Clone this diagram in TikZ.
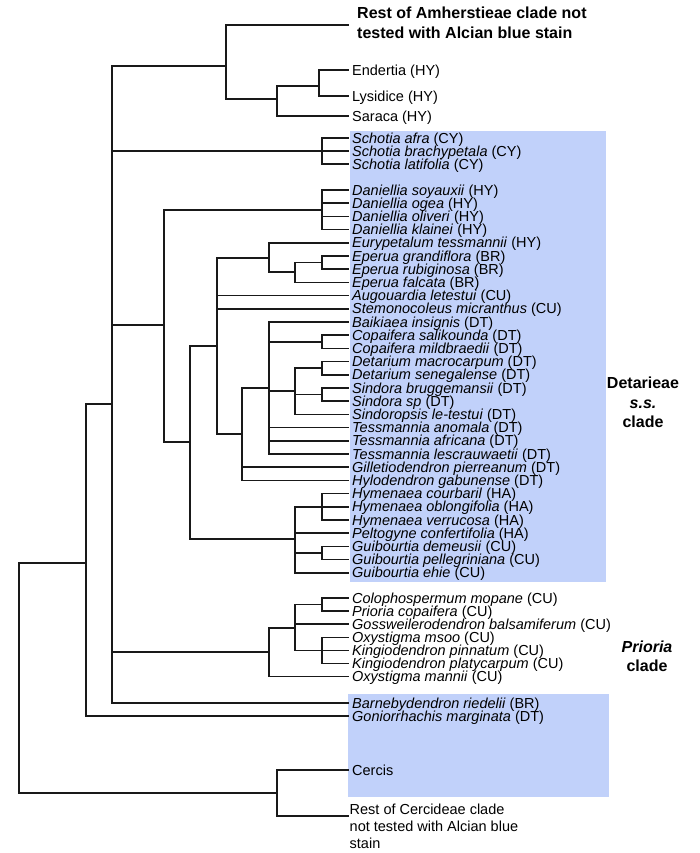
\documentclass[tikz,border=0pt]{standalone}
\usepackage{fontspec}
\setmainfont{Liberation Sans}
\definecolor{boxblue}{RGB}{193,209,250}
\definecolor{treeline}{RGB}{25,25,25}
\newcommand\leaffont{\fontsize{14.5bp}{17.2bp}\selectfont}
\newcommand\boldlab{\fontsize{16bp}{19.6bp}\selectfont\bfseries}
\newcommand\titlefont{\fontsize{16bp}{20.4bp}\selectfont\bfseries}
\begin{document}
\begin{tikzpicture}[x=1bp,y=-1bp,
  branch/.style={draw=treeline, line width=1.6bp, line cap=rect},
  spine/.style={draw=treeline, line width=2.2bp},
  leaf/.style={anchor=base west, inner sep=0pt, font=\leaffont},
  cladelabel/.style={align=center, inner sep=0pt, font=\boldlab},
  shade/.style={fill=boxblue, draw=none}]
\useasboundingbox (0,0) rectangle (700,853);
% shaded groups
\path[shade] (350,131) rectangle (606,582);
\path[shade] (348,694) rectangle (609,797);
% leaves
\foreach \n/\yy/\t in {
  en/70/{Endertia (HY)},
  ly/96/{Lysidice (HY)},
  sr/116/{Saraca (HY)},
  s1/138/{\textit{Schotia afra} (CY)},
  s2/151/{\textit{Schotia brachypetala} (CY)},
  s3/164/{\textit{Schotia latifolia} (CY)},
  d1/190/{\textit{Daniellia soyauxii} (HY)},
  d2/203.2/{\textit{Daniellia ogea} (HY)},
  d3/216.4/{\textit{Daniellia oliveri} (HY)},
  d4/229.6/{\textit{Daniellia klainei} (HY)},
  eu/242.8/{\textit{Eurypetalum tessmannii} (HY)},
  eg/256/{\textit{Eperua grandiflora} (BR)},
  er/269.2/{\textit{Eperua rubiginosa} (BR)},
  ef/282.4/{\textit{Eperua falcata} (BR)},
  au/295.6/{\textit{Augouardia letestui} (CU)},
  st/308.8/{\textit{Stemonocoleus micranthus} (CU)},
  bk/322/{\textit{Baikiaea insignis} (DT)},
  c1/335.2/{\textit{Copaifera salikounda} (DT)},
  c2/348.4/{\textit{Copaifera mildbraedii} (DT)},
  t1/361.6/{\textit{Detarium macrocarpum} (DT)},
  t2/374.8/{\textit{Detarium senegalense} (DT)},
  n1/388/{\textit{Sindora bruggemansii} (DT)},
  n2/401.2/{\textit{Sindora sp} (DT)},
  np/414.4/{\textit{Sindoropsis le-testui} (DT)},
  m1/427.6/{\textit{Tessmannia anomala} (DT)},
  m2/440.8/{\textit{Tessmannia africana} (DT)},
  m3/454/{\textit{Tessmannia lescrauwaetii} (DT)},
  gi/467.2/{\textit{Gilletiodendron pierreanum} (DT)},
  hl/480.4/{\textit{Hylodendron gabunense} (DT)},
  h1/493.6/{\textit{Hymenaea courbaril} (HA)},
  h2/506.8/{\textit{Hymenaea oblongifolia} (HA)},
  h3/520/{\textit{Hymenaea verrucosa} (HA)},
  pe/533.2/{\textit{Peltogyne confertifolia} (HA)},
  g1/546.4/{\textit{Guibourtia demeusii} (CU)},
  g2/559.6/{\textit{Guibourtia pellegriniana} (CU)},
  g3/572.8/{\textit{Guibourtia ehie} (CU)},
  co/598/{\textit{Colophospermum mopane} (CU)},
  pc/611.1/{\textit{Prioria copaifera} (CU)},
  go/624.2/{\textit{Gossweilerodendron balsamiferum} (CU)},
  o1/637.3/{\textit{Oxystigma msoo} (CU)},
  k1/650.4/{\textit{Kingiodendron pinnatum} (CU)},
  k2/663.5/{\textit{Kingiodendron platycarpum} (CU)},
  o2/676.6/{\textit{Oxystigma mannii} (CU)},
  ba/703/{\textit{Barnebydendron riedelii} (BR)},
  gm/716/{\textit{Goniorrhachis marginata} (DT)},
  ce/770/{Cercis}}
{
  \coordinate (L\n) at (348,\yy);
  \node[leaf] (T\n) at (352,\yy+5) {\t};
}
% outgroup-type leaves with multi-line text
\coordinate (Lrest) at (348,25);
\node[anchor=north west, inner sep=0pt, align=left, font=\titlefont] (Trest) at (357,6.6)
  {Rest of Amherstieae clade not\\tested with Alcian blue stain};
\coordinate (Lrc) at (348,816);
\node[anchor=north west, inner sep=0pt, align=left, font=\leaffont] (Trc) at (349.5,803.4)
  {Rest of Cercideae clade\\not tested with Alcian blue\\stain};
% clade labels
\node[cladelabel] (labDet) at (643,402.5) {Detarieae\\\textit{s.s.}\\clade};
\node[cladelabel] (labPri) at (647,656.3) {\textit{Prioria}\\clade};
% internal nodes
\coordinate (R) at (19,678);
\coordinate (R0) at (86,563);
\coordinate (B) at (112,404);
\coordinate (C) at (277,793);
\coordinate (A1) at (226,66);
\coordinate (A2) at (277,99);
\coordinate (A3) at (319,86);
\coordinate (S) at (322,151);
\coordinate (Dn) at (322,209.8);
\coordinate (D) at (164,325);
\coordinate (D2) at (190,442);
\coordinate (D3) at (217,346);
\coordinate (E1) at (269,258);
\coordinate (E2) at (295,272);
\coordinate (E3) at (322,262.6);
\coordinate (D4) at (242,434);
\coordinate (D5) at (269,388);
\coordinate (Cp) at (322,341.8);
\coordinate (D6) at (295,391);
\coordinate (Dt) at (322,368.2);
\coordinate (Sn) at (322,394.6);
\coordinate (H) at (295,539);
\coordinate (Hy) at (322,506.8);
\coordinate (Gu) at (322,553);
\coordinate (P) at (269,652);
\coordinate (P2) at (295,628);
\coordinate (Pc) at (322,604.5);
\coordinate (Ok) at (322,650.4);
% branches
\foreach \p/\c in {R/R0, R/C, R0/B, R0/Lgm,
  B/A1, B/S, B/D, B/P, B/Lba,
  A1/Lrest, A1/A2, A2/A3, A2/Lsr, A3/Len, A3/Lly,
  S/Ls1, S/Ls2, S/Ls3,
  D/Dn, D/D2, Dn/Ld1, Dn/Ld2, Dn/Ld3, Dn/Ld4,
  D2/D3, D2/H,
  D3/E1, D3/Lau, D3/Lst, D3/D4,
  E1/Leu, E1/E2, E2/E3, E2/Lef, E3/Leg, E3/Ler,
  D4/D5, D4/Lgi, D4/Lhl,
  D5/Lbk, D5/Cp, D5/D6, D5/Lm1, D5/Lm2, D5/Lm3,
  Cp/Lc1, Cp/Lc2, D6/Dt, D6/Sn, D6/Lnp,
  Dt/Lt1, Dt/Lt2, Sn/Ln1, Sn/Ln2,
  H/Hy, H/Lpe, H/Gu, H/Lg3,
  Hy/Lh1, Hy/Lh2, Hy/Lh3, Gu/Lg1, Gu/Lg2,
  P/P2, P/Lo2, P2/Pc, P2/Lgo, P2/Ok,
  Pc/Lco, Pc/Lpc, Ok/Lo1, Ok/Lk1, Ok/Lk2,
  C/Lce, C/Lrc}
  \draw[branch] (\p) |- (\c);
% heavier stretch of the backbone
\draw[spine] (112,133) -- (B |- Lba);
\end{tikzpicture}
\end{document}
